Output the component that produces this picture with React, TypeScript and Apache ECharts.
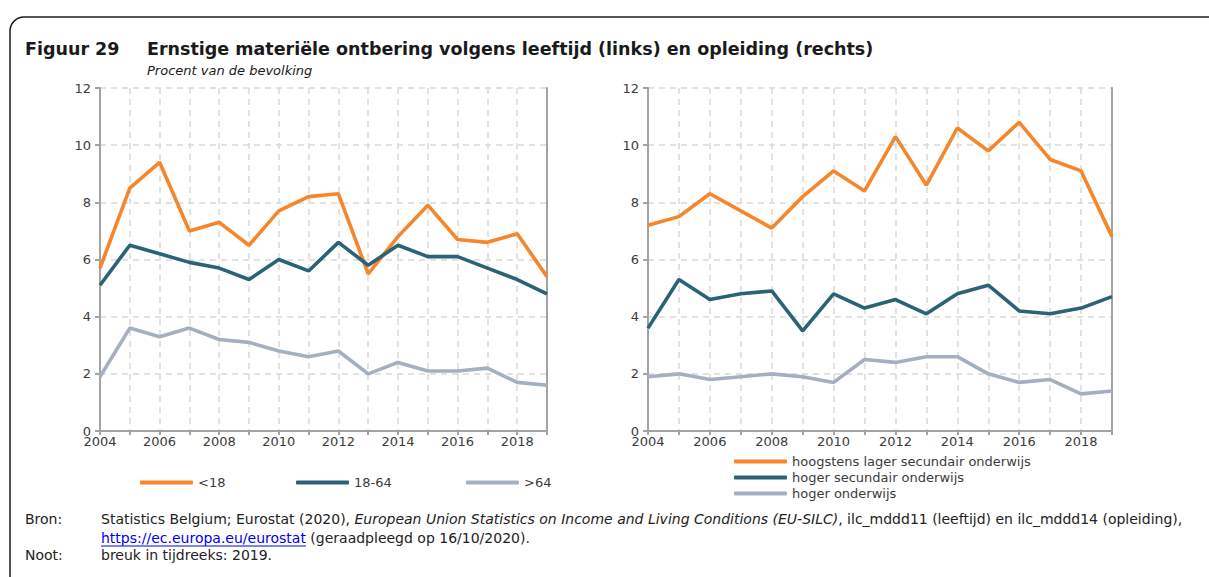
import React, { useEffect, useRef } from 'react';
import * as echarts from 'echarts';

const years = ['2004', '2005', '2006', '2007', '2008', '2009', '2010', '2011', '2012', '2013', '2014', '2015', '2016', '2017', '2018', '2019'];

// Left panel: by age
const ageUnder18 = [5.7, 8.5, 9.4, 7.0, 7.3, 6.5, 7.7, 8.2, 8.3, 5.5, 6.8, 7.9, 6.7, 6.6, 6.9, 5.4];
const age18to64 = [5.1, 6.5, 6.2, 5.9, 5.7, 5.3, 6.0, 5.6, 6.6, 5.8, 6.5, 6.1, 6.1, 5.7, 5.3, 4.8];
const ageOver64 = [1.9, 3.6, 3.3, 3.6, 3.2, 3.1, 2.8, 2.6, 2.8, 2.0, 2.4, 2.1, 2.1, 2.2, 1.7, 1.6];

// Right panel: by education
const eduLow = [7.2, 7.5, 8.3, 7.7, 7.1, 8.2, 9.1, 8.4, 10.3, 8.6, 10.6, 9.8, 10.8, 9.5, 9.1, 6.8];
const eduMid = [3.6, 5.3, 4.6, 4.8, 4.9, 3.5, 4.8, 4.3, 4.6, 4.1, 4.8, 5.1, 4.2, 4.1, 4.3, 4.7];
const eduHigh = [1.9, 2.0, 1.8, 1.9, 2.0, 1.9, 1.7, 2.5, 2.4, 2.6, 2.6, 2.0, 1.7, 1.8, 1.3, 1.4];

const ageNames = ['<18', '18-64', '>64'];
const eduNames = ['hoogstens lager secundair onderwijs', 'hoger secundair onderwijs', 'hoger onderwijs'];

const yMin = 0;
const yMax = 12;
const yStep = 2;

const titleLabel = 'Figuur 29';
const titleText = 'Ernstige materiële ontbering volgens leeftijd (links) en opleiding (rechts)';
const subtitleText = 'Procent van de bevolking';

const COLORS = ['#F5862B', '#2C6276', '#A4B0BF'];
const FONT = '"DejaVu Sans", Verdana, sans-serif';
const AXIS_COLOR = '#a3a3a3';
const GRID_COLOR = '#d9d9d9';
const TEXT_COLOR = '#3c3c3c';

function measure(text: string, font: string): number {
  const c = document.createElement('canvas').getContext('2d');
  if (!c) return text.length * 7;
  c.font = font;
  return c.measureText(text).width;
}

export default function App() {
  const ref = useRef<HTMLDivElement>(null);

  useEffect(() => {
    document.body.style.margin = '0';
    if (!ref.current) return;
    const chart = echarts.init(ref.current, null, { renderer: 'svg' });

    const makeX = (gridIndex: number) => ({
      type: 'category',
      gridIndex,
      data: years,
      boundaryGap: false,
      axisLine: { show: true, lineStyle: { color: AXIS_COLOR, width: 2 } },
      axisTick: { show: true, interval: 0, length: 4, lineStyle: { color: AXIS_COLOR, width: 2 } },
      axisLabel: { interval: 1, color: TEXT_COLOR, fontSize: 13, fontFamily: FONT, margin: 4 },
      splitLine: { show: true, interval: 0, lineStyle: { color: GRID_COLOR, type: [6, 5], width: 1.5 } },
    });
    const makeXTop = (gridIndex: number) => ({
      type: 'category',
      gridIndex,
      data: years,
      boundaryGap: false,
      position: 'top',
      axisLine: { show: true, lineStyle: { color: AXIS_COLOR, width: 2 } },
      axisTick: { show: false },
      axisLabel: { show: false },
      splitLine: { show: false },
    });
    const makeY = (gridIndex: number) => ({
      type: 'value',
      gridIndex,
      min: yMin,
      max: yMax,
      interval: yStep,
      axisLine: { show: true, lineStyle: { color: AXIS_COLOR, width: 2 } },
      axisTick: { show: true, length: 5, lineStyle: { color: AXIS_COLOR, width: 2 } },
      axisLabel: { color: TEXT_COLOR, fontSize: 13, fontFamily: FONT, margin: 9 },
      splitLine: { show: true, lineStyle: { color: GRID_COLOR, type: [6, 5], width: 1.5 } },
    });
    const makeYRight = (gridIndex: number) => ({
      type: 'value',
      gridIndex,
      min: yMin,
      max: yMax,
      interval: yStep,
      position: 'right',
      axisLine: { show: true, lineStyle: { color: AXIS_COLOR, width: 2 } },
      axisTick: { show: false },
      axisLabel: { show: false },
      splitLine: { show: false },
    });

    const mkSeries = (name: string, data: number[], idx: number, color: string) => ({
      name,
      type: 'line',
      xAxisIndex: idx,
      yAxisIndex: idx,
      data,
      symbol: 'none',
      lineStyle: { color, width: 3.6 },
      itemStyle: { color },
      z: 5,
    });

    const legendBase = {
      icon: 'roundRect',
      itemWidth: 53,
      itemHeight: 4,
      itemGap: 0,
      textStyle: { color: TEXT_COLOR, fontSize: 13, fontFamily: FONT },
      selectedMode: false,
    };

    const footFont = 14;
    const footFontCss = `${footFont}px "DejaVu Sans"`;
    const linkText = 'https://ec.europa.eu/eurostat';
    const linkW = measure(linkText, footFontCss);
    const footX = 101;
    const footY = [519, 538, 555];

    chart.setOption({
      animation: false,
      grid: [
        { left: 100, top: 88, width: 447, height: 343, containLabel: false },
        { left: 648, top: 88, width: 464, height: 343, containLabel: false },
      ],
      xAxis: [makeX(0), makeX(1), makeXTop(0), makeXTop(1)],
      yAxis: [makeY(0), makeY(1), makeYRight(0), makeYRight(1)],
      legend: [
        { ...legendBase, data: [ageNames[0]], left: 135, top: 471 },
        { ...legendBase, data: [ageNames[1]], left: 291, top: 471 },
        { ...legendBase, data: [ageNames[2]], left: 461, top: 471 },
        { ...legendBase, data: [eduNames[0]], left: 729, top: 450 },
        { ...legendBase, data: [eduNames[1]], left: 729, top: 466 },
        { ...legendBase, data: [eduNames[2]], left: 729, top: 482 },
      ],
      series: [
        mkSeries(ageNames[0], ageUnder18, 0, COLORS[0]),
        mkSeries(ageNames[1], age18to64, 0, COLORS[1]),
        mkSeries(ageNames[2], ageOver64, 0, COLORS[2]),
        mkSeries(eduNames[0], eduLow, 1, COLORS[0]),
        mkSeries(eduNames[1], eduMid, 1, COLORS[1]),
        mkSeries(eduNames[2], eduHigh, 1, COLORS[2]),
      ],
      graphic: [
        {
          type: 'rect',
          silent: true,
          z: -10,
          shape: { x: 10, y: 17, width: 1300, height: 700, r: 14 },
          style: { fill: 'none', stroke: '#1e1e1e', lineWidth: 1.5 },
        },
        {
          type: 'text', x: 25, y: 49,
          style: { text: titleLabel, fontSize: 17.5, fontWeight: 'bold', fontFamily: FONT, fill: '#1a1a1a', verticalAlign: 'middle' },
        },
        {
          type: 'text', x: 147, y: 49,
          style: { text: titleText, fontSize: 17.5, fontWeight: 'bold', fontFamily: FONT, fill: '#1a1a1a', verticalAlign: 'middle' },
        },
        {
          type: 'text', x: 147, y: 70,
          style: { text: subtitleText, fontSize: 13, fontStyle: 'italic', fontFamily: FONT, fill: '#1a1a1a', verticalAlign: 'middle' },
        },
        {
          type: 'text', x: 25, y: footY[0],
          style: { text: 'Bron:', fontSize: footFont, fontFamily: FONT, fill: '#222', verticalAlign: 'middle' },
        },
        {
          type: 'text', x: footX, y: footY[0],
          style: {
            text: '{n|Statistics Belgium; Eurostat (2020), }{i|European Union Statistics on Income and Living Conditions (EU-SILC)}{n|, ilc_mddd11 (leeftijd) en ilc_mddd14 (opleiding),}',
            fontSize: footFont, fontFamily: FONT, fill: '#222', verticalAlign: 'middle',
            rich: {
              n: { fontSize: footFont, fontFamily: FONT, fill: '#222' },
              i: { fontSize: footFont, fontFamily: FONT, fontStyle: 'italic', fill: '#222' },
            },
          },
        },
        {
          type: 'text', x: footX, y: footY[1],
          style: {
            text: '{l|' + linkText + '}{n| (geraadpleegd op 16/10/2020).}',
            fontSize: footFont, fontFamily: FONT, fill: '#222', verticalAlign: 'middle',
            rich: {
              n: { fontSize: footFont, fontFamily: FONT, fill: '#222' },
              l: { fontSize: footFont, fontFamily: FONT, fill: '#0000ee' },
            },
          },
        },
        {
          type: 'line',
          silent: true,
          shape: { x1: footX, y1: footY[1] + 8, x2: footX + linkW, y2: footY[1] + 8 },
          style: { stroke: '#0000ee', lineWidth: 1 },
        },
        {
          type: 'text', x: 25, y: footY[2],
          style: { text: 'Noot:', fontSize: footFont, fontFamily: FONT, fill: '#222', verticalAlign: 'middle' },
        },
        {
          type: 'text', x: footX, y: footY[2],
          style: { text: 'breuk in tijdreeks: 2019.', fontSize: footFont, fontFamily: FONT, fill: '#222', verticalAlign: 'middle' },
        },
      ],
    });

    return () => chart.dispose();
  }, []);

  return <div ref={ref} style={{ width: 1209, height: 577 }} />;
}
